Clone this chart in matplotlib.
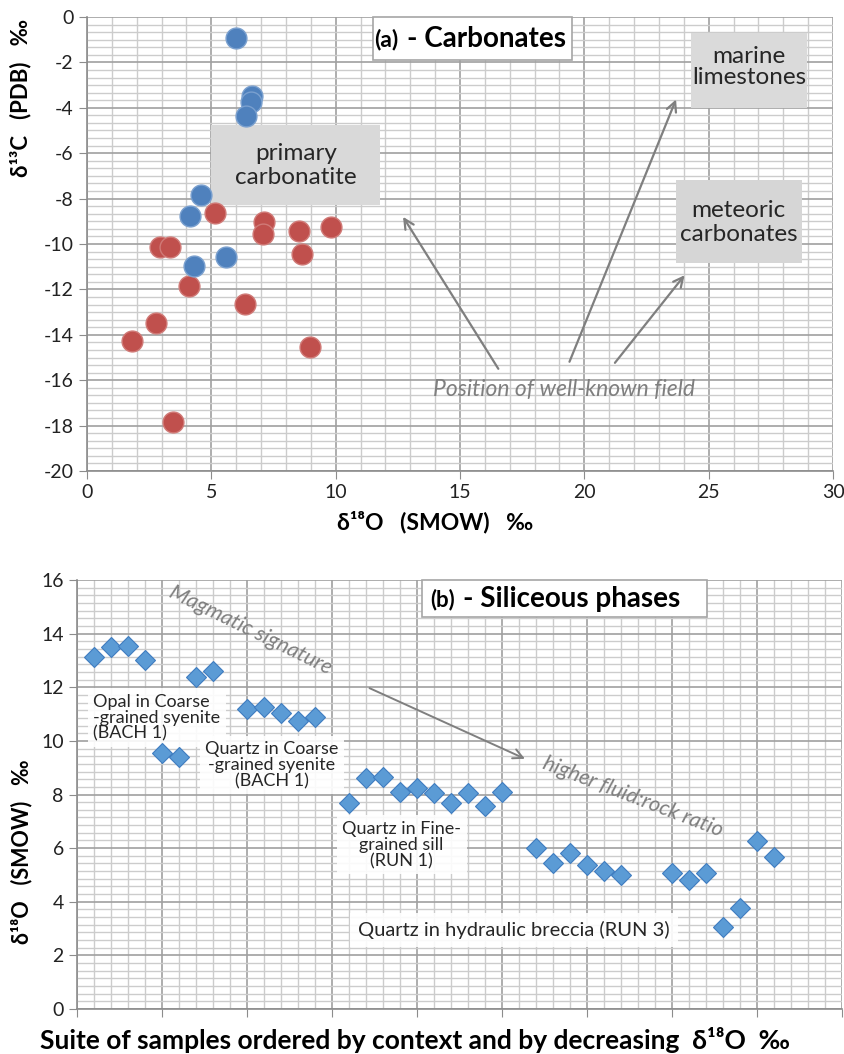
import numpy as np
import matplotlib
matplotlib.use("Agg")
import matplotlib.pyplot as plt
from matplotlib.patches import Rectangle
from matplotlib.ticker import MultipleLocator

plt.rcParams['font.family'] = ['Lato', 'DejaVu Sans']
plt.rcParams['axes.unicode_minus'] = False

# ---- panel (a): carbonates, d18O vs d13C ----
blue_x = [6.0, 6.63, 6.58, 6.38, 4.58, 4.16, 4.3, 5.58]
blue_y = [-0.93, -3.48, -3.74, -4.36, -7.84, -8.76, -10.97, -10.57]
red_x = [5.14, 7.1, 7.07, 8.51, 9.8, 8.63, 2.93, 3.33, 4.1, 6.34, 2.77, 1.8, 8.96, 3.45]
red_y = [-8.65, -9.04, -9.56, -9.42, -9.25, -10.42, -10.13, -10.13, -11.85, -12.64,
         -13.48, -14.27, -14.53, -17.84]

# ---- panel (b): siliceous phases, sample index vs d18O ----
sample_idx = [1, 2, 3, 4, 5, 6, 7, 8,
              10, 11, 12, 13, 14,
              16, 17, 18, 19, 20, 21, 22, 23, 24, 25,
              27, 28, 29, 30, 31, 32,
              35, 36, 37, 38, 39, 40, 41]
d18o = [13.13, 13.5, 13.55, 13.0, 9.55, 9.4, 12.38, 12.6,
        11.19, 11.27, 11.04, 10.75, 10.9,
        7.69, 8.62, 8.66, 8.1, 8.25, 8.06, 7.69, 8.06, 7.57, 8.1,
        6.0, 5.45, 5.8, 5.37, 5.15, 5.0,
        5.08, 4.81, 5.08, 3.07, 3.76, 6.28, 5.68]

grey = '#7f7f7f'
txt = '#262626'
fig = plt.figure(figsize=(8.45, 10.54), dpi=100)


def style_axes(ax):
    ax.grid(which='minor', color='#cccccc', lw=1.0, zorder=0)
    ax.grid(which='major', color='#a0a0a0', lw=1.2, zorder=0)
    ax.set_axisbelow(True)
    for s in ['top', 'right']:
        ax.spines[s].set_visible(False)
    for s in ['left', 'bottom']:
        ax.spines[s].set_color('#8c8c8c')
        ax.spines[s].set_linewidth(1.2)
    ax.tick_params(which='major', direction='out', length=6, color='#8c8c8c',
                   labelsize=14, labelcolor='#222222')
    ax.tick_params(which='minor', length=0)


# ================= top panel =================
ax1 = fig.add_axes([0.103, 0.5531, 0.8828, 0.4308])
ax1.set_xlim(0, 30)
ax1.set_ylim(-20, 0)
ax1.xaxis.set_major_locator(MultipleLocator(5))
ax1.xaxis.set_minor_locator(MultipleLocator(1))
ax1.yaxis.set_major_locator(MultipleLocator(2))
ax1.yaxis.set_minor_locator(MultipleLocator(1 / 3))
style_axes(ax1)

# field boxes
ax1.add_patch(Rectangle((5.0, -8.28), 6.77, 3.52, fc='#d9d9d9', ec='none', zorder=1))
ax1.add_patch(Rectangle((24.3, -4.0), 4.65, 3.3, fc='#dadada', ec='none', zorder=1))
ax1.add_patch(Rectangle((23.7, -10.84), 5.05, 3.66, fc='#d6d6d6', ec='none', zorder=1))
ax1.text(8.4, -6.55, 'primary\ncarbonatite', ha='center', va='center', fontsize=17.5,
         color=txt, linespacing=1.15, zorder=2)
ax1.text(26.63, -2.2, 'marine\nlimestones', ha='center', va='center', fontsize=17.5,
         color=txt, linespacing=1.0, zorder=2)
ax1.text(26.2, -9.05, 'meteoric\ncarbonates', ha='center', va='center', fontsize=17.5,
         color=txt, linespacing=1.15, zorder=2)

ax1.plot(red_x, red_y, 'o', ms=15, mfc='#c0504d', mec='#d07a77', mew=1, zorder=4)
ax1.plot(blue_x, blue_y, 'o', ms=15, mfc='#4f81bd', mec='#7aa0cf', mew=1, zorder=4)

# arrows toward well-known fields
arrow_kw = dict(arrowstyle='->,head_length=0.7,head_width=0.35', color=grey, lw=1.6)
ax1.annotate('', xy=(12.65, -8.7), xytext=(16.6, -15.6), arrowprops=arrow_kw, zorder=3)
ax1.annotate('', xy=(23.73, -3.52), xytext=(19.36, -15.3), arrowprops=arrow_kw, zorder=3)
ax1.annotate('', xy=(24.1, -11.28), xytext=(21.16, -15.33), arrowprops=arrow_kw, zorder=3)
ax1.text(19.2, -16.4, 'Position of well-known field', ha='center', va='center',
         fontsize=16.5, style='italic', color=grey, zorder=3)

# title box
ax1.add_patch(Rectangle((11.49, -1.89), 8.03, 1.89, fc='white', ec='#a6a6a6', lw=1.2,
                        zorder=5, clip_on=False))
ax1.text(11.55, -0.98, '(a)', ha='left', va='center', fontsize=16.5, fontweight='bold',
         zorder=6)
ax1.text(12.85, -0.95, '- Carbonates', ha='left', va='center', fontsize=20,
         fontweight='bold', zorder=6)

fig.text(0.024, 0.907, 'δ¹³C   (PDB)   ‰', rotation=90, ha='center', va='center',
         fontsize=16, fontweight='bold')
fig.text(0.515, 0.505, 'δ¹⁸O   (SMOW)   ‰', ha='center', va='center',
         fontsize=16.5, fontweight='bold')

# ================= bottom panel =================
ax2 = fig.add_axes([0.0911, 0.0427, 0.9053, 0.4070])
ax2.set_xlim(0, 45)
ax2.set_ylim(0, 16)
ax2.xaxis.set_major_locator(MultipleLocator(5))
ax2.xaxis.set_minor_locator(MultipleLocator(1))
ax2.yaxis.set_major_locator(MultipleLocator(2))
ax2.yaxis.set_minor_locator(MultipleLocator(2 / 7))
style_axes(ax2)
ax2.tick_params(axis='x', labelbottom=False)

label_box = dict(boxstyle='square,pad=0.3', fc='white', ec='none', alpha=0.9)
ax2.text(0.94, 10.86, 'Opal in Coarse\n-grained syenite\n(BACH 1)', ha='left', va='center',
         fontsize=13, linespacing=1.0, color=txt, bbox=label_box, zorder=2)
ax2.text(11.47, 9.1, 'Quartz in Coarse\n-grained syenite\n(BACH 1)', ha='center',
         va='center', fontsize=13, linespacing=1.0, color=txt, bbox=label_box,
         zorder=2)
ax2.text(19.1, 6.12, 'Quartz in Fine-\ngrained sill\n(RUN 1)', ha='center', va='center',
         fontsize=13, linespacing=1.0, color=txt, bbox=label_box, zorder=2)
ax2.text(25.7, 2.95, 'Quartz in hydraulic breccia (RUN 3)', ha='center', va='center',
         fontsize=14.5, color=txt,
         bbox=dict(boxstyle='square,pad=0.4', fc='white', ec='none', alpha=0.9), zorder=2)

ax2.plot(sample_idx, d18o, 'D', ms=10, mfc='#5b9bd5', mec='#3f7cc0', mew=0.8, zorder=4)

ax2.text(10.2, 14.15, 'Magmatic signature', ha='center', va='center', rotation=-26,
         fontsize=15.5, style='italic', color=grey, zorder=3)
ax2.annotate('', xy=(26.5, 9.29), xytext=(17.06, 12.01),
             arrowprops=dict(arrowstyle='->,head_length=0.7,head_width=0.35', color=grey,
                             lw=1.4), zorder=3)
ax2.text(32.7, 7.9, 'higher fluid:rock ratio', ha='center', va='center', rotation=-21,
         fontsize=15.5, style='italic', color=grey, zorder=3)

ax2.add_patch(Rectangle((20.3, 14.63), 16.76, 1.37, fc='white', ec='#a6a6a6', lw=1.2,
                        zorder=5, clip_on=False))
ax2.text(20.8, 15.28, '(b)', ha='left', va='center', fontsize=16, fontweight='bold',
         zorder=6)
ax2.text(22.7, 15.3, '- Siliceous phases', ha='left', va='center', fontsize=20,
         fontweight='bold', zorder=6)

fig.text(0.026, 0.1917, 'δ¹⁸O   (SMOW)   ‰', rotation=90, ha='center', va='center',
         fontsize=15.5, fontweight='bold')
fig.text(0.491, 0.013, 'Suite of samples ordered by context and by decreasing  δ¹⁸O  ‰',
         ha='center', va='center', fontsize=19, fontweight='bold')

fig.savefig('out.png', dpi=100)
